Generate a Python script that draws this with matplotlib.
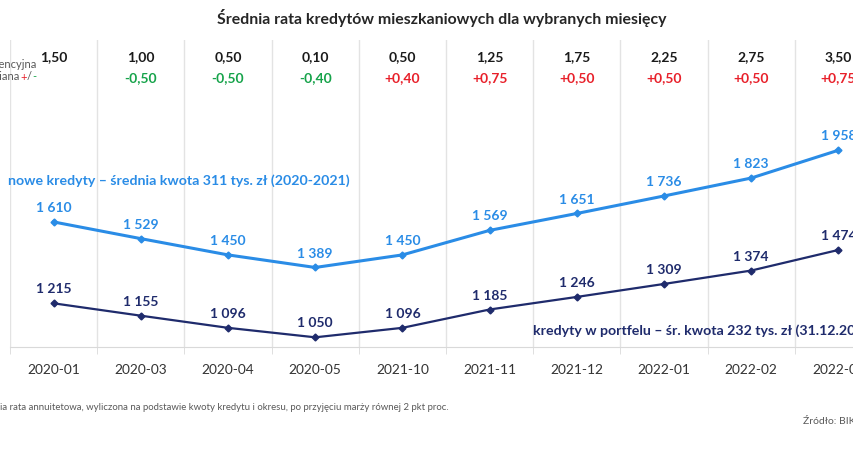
import matplotlib.pyplot as plt
import numpy as np

plt.rcParams['font.family'] = ['Lato', 'DejaVu Sans']

# Data
months = ["2020-01", "2020-03", "2020-04", "2020-05", "2021-10",
          "2021-11", "2021-12", "2022-01", "2022-02", "2022-03"]
new_loans = [1610, 1529, 1450, 1389, 1450, 1569, 1651, 1736, 1823, 1958]
portfolio = [1215, 1155, 1096, 1050, 1096, 1185, 1246, 1309, 1374, 1474]
ref_rate = ["1,50", "1,00", "0,50", "0,10", "0,50", "1,25", "1,75", "2,25", "2,75", "3,50"]
rate_change = ["", "-0,50", "-0,50", "-0,40", "+0,40", "+0,75", "+0,50", "+0,50", "+0,50", "+0,75"]

blue = "#2A8CE6"
navy = "#1F2B6C"
green = "#16A34A"
red = "#E8202A"
gray = "#595959"

def fmt(v):
    return "{:,}".format(v).replace(",", " ")

fig = plt.figure(figsize=(8.54, 4.49), dpi=100)
W, H = 854, 449
# axes slightly wider than the figure: the source image is cropped on the right
ax = fig.add_axes([10 / W, (H - 347) / H, 872 / W, 307 / H])
x = np.arange(len(months))

ax.plot(x, new_loans, color=blue, lw=2.2, marker="D", ms=3.5, zorder=3)
ax.plot(x, portfolio, color=navy, lw=1.6, marker="D", ms=3.5, zorder=3)

for i, v in enumerate(new_loans):
    ax.annotate(fmt(v), (i, v), xytext=(0, 10), textcoords="offset points",
                ha="center", va="center", color=blue, fontsize=10, fontweight="bold")
for i, v in enumerate(portfolio):
    ax.annotate(fmt(v), (i, v), xytext=(0, 10), textcoords="offset points",
                ha="center", va="center", color=navy, fontsize=10, fontweight="bold")

ax.set_xlim(-0.5, len(months) - 0.5)
ax.set_ylim(1003, 2493)
ax.set_xticks(x)
ax.set_xticklabels(months, color="#333333", fontsize=9.9)
ax.set_xticks(x - 0.5, minor=True)
ax.tick_params(axis="x", which="major", length=0, pad=12)
ax.tick_params(axis="x", which="minor", length=5, color="#D9D9D9")
ax.set_yticks([])
ax.grid(axis="x", which="minor", color="#E3E3E3", lw=1)
for s in ["top", "left", "right"]:
    ax.spines[s].set_visible(False)
ax.spines["bottom"].set_color("#D9D9D9")

# reference rate rows
tr = ax.get_xaxis_transform()
for i in range(len(months)):
    ax.text(i, 0.945, ref_rate[i], transform=tr, ha="center", va="center",
            fontsize=10, fontweight="bold", color="#1A1A1A")
    ch = rate_change[i]
    if ch:
        ax.text(i, 0.876, ch, transform=tr, ha="center", va="center",
                fontsize=10, fontweight="bold", color=green if ch.startswith("-") else red)

# row labels on the left (cropped in the source)
fig.text(36 / W, 1 - 64 / H, "stopa referencyjna", ha="right", va="center",
         fontsize=8, color=gray)
parts = [("zmiana", gray, 3), ("+", red, 0), ("/", gray, 0), ("-", green, 0)]
renderer = fig.canvas.get_renderer()
right = 36
for label, col, gap in reversed(parts):
    t = fig.text(right / W, 1 - 77 / H, label, ha="right", va="center", fontsize=8, color=col)
    right -= t.get_window_extent(renderer).width + gap

# series labels
fig.text(8 / W, 1 - 181 / H, "nowe kredyty – średnia kwota 311 tys. zł (2020-2021)",
         ha="left", va="center", fontsize=10.2, fontweight="bold", color=blue)
fig.text(533 / W, 1 - 331 / H, "kredyty w portfelu – śr. kwota 232 tys. zł (31.12.2021)",
         ha="left", va="center", fontsize=10.2, fontweight="bold", color=navy)

fig.text(442 / W, 1 - 18 / H, "Średnia rata kredytów mieszkaniowych dla wybranych miesięcy",
         ha="center", va="center", fontsize=11.4, fontweight="bold", color="#262626")

fig.text(0, 1 - 407 / H,
         "ia rata annuitetowa, wyliczona na podstawie kwoty kredytu i okresu, po przyjęciu marży równej 2 pkt proc.",
         ha="left", va="center", fontsize=6.9, color=gray)
fig.text(803 / W, 1 - 422 / H, "Źródło: BIK", ha="left", va="center", fontsize=7.5, color=gray)

fig.savefig("out.png", dpi=100)
